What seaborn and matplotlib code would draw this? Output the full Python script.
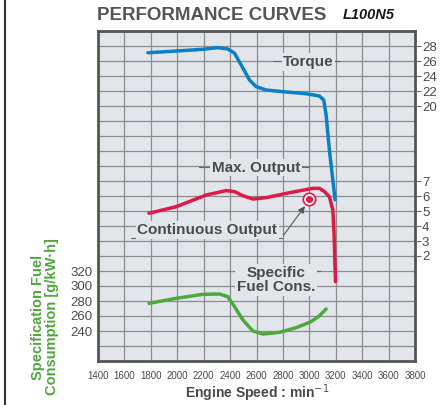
import numpy as np
import pandas as pd
import seaborn as sns
import matplotlib.pyplot as plt
from matplotlib.lines import Line2D

# performance curves L100N5

rpm_torque = [1778, 1993, 2194, 2307, 2383, 2434, 2484, 2547, 2598, 2673, 2799, 2976, 3077, 3109, 3127, 3152, 3195]
torque = [27.1, 27.33, 27.56, 27.78, 27.6, 27.03, 25.47, 23.47, 22.57, 22.13, 21.91, 21.64, 21.33, 20.8, 18.8, 14.1, 7.5]

rpm_output = [1786, 1993, 2220, 2371, 2434, 2497, 2572, 2673, 2850, 3026, 3077, 3115, 3152, 3178, 3187, 3198]
output = [4.85, 5.29, 6.07, 6.36, 6.29, 6.02, 5.8, 5.89, 6.22, 6.51, 6.51, 6.29, 5.95, 5.07, 3.51, 0.29]

rpm_fuel = [1786, 1993, 2194, 2320, 2383, 2434, 2497, 2572, 2648, 2774, 2900, 3013, 3077, 3127]
fuel = [276.9, 283.6, 288.9, 289.3, 285.7, 272.4, 254.7, 240, 236, 238.2, 244.4, 252.4, 260.4, 269.3]

cont_rpm = [3001]
cont_output = [5.78]

x_ticks = list(range(1400, 3801, 200))
fuel_ticks = [240, 260, 280, 300, 320]
torque_ticks = [20, 22, 24, 26, 28]
output_ticks = [2, 3, 4, 5, 6, 7]

BG = "#e2e6ea"
GRID = "#8c8c8c"
TXT = "#4a4a4a"
BLUE = "#0a80c8"
RED = "#e0194b"
GREEN = "#4fa83d"

sns.set_style("white")
plt.rcParams["font.family"] = ["Liberation Sans", "DejaVu Sans"]

fig = plt.figure(figsize=(4.46, 4.05), dpi=100)
ax = fig.add_axes([98 / 446, 1 - 361 / 405, 317 / 446, 330 / 405])
ax.set_facecolor(BG)

# fuel axis (left) also carries the grid
ax.set_xlim(1400, 3800)
ax.set_ylim(200, 640)
ax.set_xticks(x_ticks)
ax.set_xticklabels([str(v) for v in x_ticks], fontsize=7, color=TXT)
ax.set_yticks(list(range(200, 641, 20)))
ax.set_yticklabels([str(v) if v in fuel_ticks else "" for v in range(200, 641, 20)],
                   fontsize=9.5, color=TXT)
ax.tick_params(axis="x", length=0, pad=7)
ax.tick_params(axis="y", length=0, pad=4)
ax.grid(True, color=GRID, lw=0.9)
ax.set_axisbelow(True)
for s in ax.spines.values():
    s.set_color("#555555")
    s.set_linewidth(2)

ax_t = ax.twinx()
ax_t.set_ylim(-14, 30)
ax_p = ax.twinx()
ax_p.set_ylim(-5, 17)
for a, ticks in ((ax_t, torque_ticks), (ax_p, output_ticks)):
    a.set_yticks(ticks)
    a.set_yticklabels([str(v) for v in ticks], fontsize=9.5, color=TXT)
    a.tick_params(axis="y", length=4, width=0.8, color="#666666", pad=1)
    for s in a.spines.values():
        s.set_visible(False)
    a.grid(False)

sns.lineplot(x=rpm_fuel, y=fuel, ax=ax, color=GREEN, lw=2.5, sort=False)
sns.lineplot(x=rpm_torque, y=torque, ax=ax_t, color=BLUE, lw=2.5, sort=False)
sns.lineplot(x=rpm_output, y=output, ax=ax_p, color=RED, lw=2.5, sort=False)
ax_p.scatter(cont_rpm, cont_output, s=80, facecolor="white", edgecolor=RED, lw=1.2, zorder=5)
ax_p.scatter(cont_rpm, cont_output, s=16, color=RED, zorder=6)

box = dict(boxstyle="square,pad=0.1", facecolor=BG, edgecolor="none")
lab = dict(fontsize=11, fontweight="bold", color=TXT, ha="center", va="center",
           transform=ax.transAxes, bbox=box, zorder=4)

def label_line(x0, x1, y):
    ax.add_line(Line2D([x0, x1], [y, y], transform=ax.transAxes, color="#666666", lw=0.8, zorder=3))

label_line(0.551, 0.762, 0.909)
ax.text(0.664, 0.906, "Torque", **lab)
label_line(0.32, 0.665, 0.589)
ax.text(0.498, 0.586, "Max. Output", **lab)
label_line(0.104, 0.58, 0.374)
ax.text(0.345, 0.397, "Continuous Output", **lab)
ax.annotate("", xy=(0.658, 0.476), xytext=(0.58, 0.374), xycoords="axes fraction",
            arrowprops=dict(arrowstyle="-|>", color="#555555", lw=0.8, mutation_scale=10), zorder=4)
label_line(0.43, 0.70, 0.273)
ax.text(0.562, 0.245, "Specific\nFuel Cons.", linespacing=1.05, **lab)

fig.text(97 / 446, 1 - 15 / 405, "PERFORMANCE CURVES", fontsize=13.5, fontweight="bold",
         color="#555555", ha="left", va="center")
fig.text(343 / 446, 1 - 15 / 405, "L100N5", fontsize=10.5, fontweight="bold", style="italic",
         color="#1a1a1a", ha="left", va="center")
fig.text(257 / 446, 1 - 393 / 405, "Engine Speed : min$^{-1}$", fontsize=10, fontweight="bold",
         color=TXT, ha="center", va="center")
fig.text(45 / 446, 1 - 317 / 405, "Specification Fuel\nConsumption [g/kW\u00b7h]", fontsize=10.5,
         fontweight="bold", color=GREEN, ha="center", va="center", rotation=90, linespacing=1.05)
fig.add_artist(Line2D([5 / 446, 5 / 446], [0, 1], transform=fig.transFigure, color="#333333", lw=1.5))

fig.savefig("out.png", dpi=100)
